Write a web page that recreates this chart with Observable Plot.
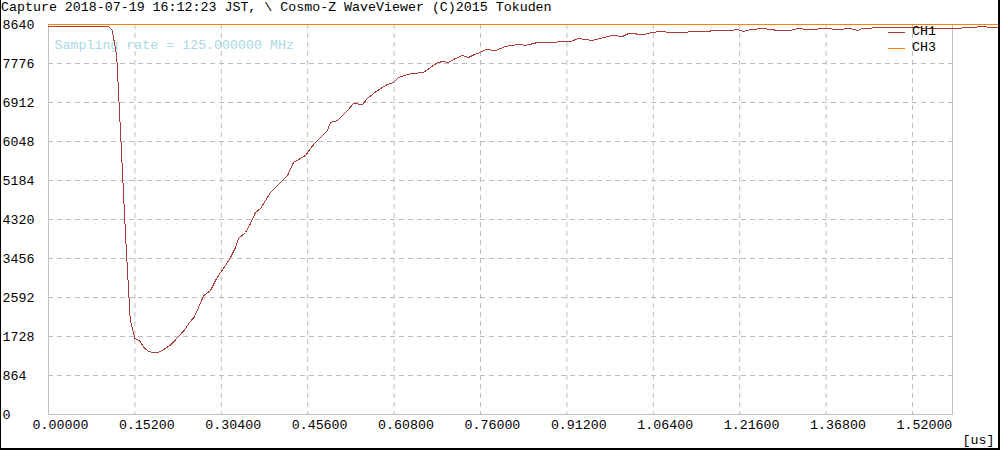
<!DOCTYPE html>
<html>
<head>
<meta charset="utf-8">
<script src="https://cdn.jsdelivr.net/npm/d3@7"></script>
<script src="https://cdn.jsdelivr.net/npm/@observablehq/plot@0.6"></script>
<style>
  html, body { margin: 0; padding: 0; background: #fff; }
  #wrap { position: relative; width: 1000px; height: 450px; overflow: hidden; background: #fff;
          font-family: 'Liberation Mono', monospace; }
  #title { position: absolute; left: 1px; top: 0; height: 16px; line-height: 16px; font-size: 13.3px; color: #000; white-space: pre; }
  #chart { position: absolute; left: 0; top: 16px; }
  #border { position: absolute; left: 0; top: 0; width: 1000px; height: 450px; box-sizing: border-box;
            border-left: 1px solid #000; border-right: 2px solid #000; border-bottom: 2px solid #000; pointer-events: none; }
  #legend { position: absolute; left: 888px; top: 24px; font-size: 13.3px; color: #000; }
  #legend .row { height: 16px; line-height: 16px; display: flex; align-items: center; }
  #legend .sw { width: 17px; height: 0; border-top: 1px solid; margin-right: 7px; }
</style>
</head>
<body>
<div id="wrap">
  <div id="title"></div>
  <div id="chart"></div>
  <div id="legend"></div>
  <div id="border"></div>
</div>
<script>
// ---- data ----
const titleText = "Capture 2018-07-19 16:12:23 JST, \\ Cosmo-Z WaveViewer (C)2015 Tokuden";
const samplingText = "Sampling rate = 125.000000 MHz";
const unitLabel = "[us]";

const xTicks = [0, 0.152, 0.304, 0.456, 0.608, 0.76, 0.912, 1.064, 1.216, 1.368, 1.52];
const yTicks = [0, 864, 1728, 2592, 3456, 4320, 5184, 6048, 6912, 7776, 8640];

const channelNames = ["CH1", "CH3"];
const channelColors = ["#aa3c3c", "#ff8000"];

// CH1 trace (time in microseconds, value in counts)
const ch1Time = [0, 0.1056, 0.1121, 0.1200, 0.1281, 0.1360, 0.1439, 0.1520, 0.1599, 0.1680,
  0.1759, 0.1840, 0.1919, 0.1999, 0.2080, 0.2159, 0.2240, 0.2319, 0.2400, 0.2479,
  0.2560, 0.2639, 0.2732, 0.2850, 0.2938, 0.3026, 0.3114, 0.3202, 0.3290, 0.3343,
  0.3466, 0.3554, 0.3642, 0.3730, 0.3818, 0.3906, 0.4029, 0.4117, 0.4205, 0.4310,
  0.4433, 0.4521, 0.4609, 0.4697, 0.4820, 0.4908, 0.4961, 0.5084, 0.5172, 0.5260,
  0.5366, 0.5524, 0.5612, 0.5718, 0.5841, 0.5964, 0.6070, 0.6158, 0.6316, 0.6421,
  0.6597, 0.6720, 0.6844, 0.6949, 0.7037, 0.7160, 0.7284, 0.7389, 0.7495, 0.7600,
  0.7688, 0.7864, 0.8040, 0.8128, 0.8304, 0.8392, 0.8603, 0.8884, 0.9008, 0.9184,
  0.9324, 0.9571, 0.9835, 0.9940, 1.0098, 1.0204, 1.0468, 1.0626, 1.0767, 1.0943,
  1.1594, 1.1700, 1.1998, 1.2122, 1.2227, 1.2350, 1.2579, 1.2702, 1.2843, 1.3054,
  1.3177, 1.3371, 1.3705, 1.3881, 1.4110, 1.4233, 1.4321, 1.4638, 1.4989, 1.5746,
  1.5922, 1.6221, 1.6449, 1.6573, 1.6713];
const ch1Value = [8596, 8596, 8507, 7953, 5893, 3855, 2082, 1684, 1639, 1484,
  1396, 1374, 1374, 1418, 1484, 1551, 1662, 1772, 1883, 2038,
  2149, 2370, 2636, 2747, 2969, 3146, 3301, 3478, 3700, 3899,
  4032, 4231, 4475, 4564, 4741, 4918, 5073, 5184, 5295, 5583,
  5671, 5738, 5893, 6026, 6181, 6292, 6469, 6513, 6624, 6735,
  6890, 6868, 7000, 7111, 7222, 7311, 7355, 7466, 7532, 7555,
  7577, 7687, 7798, 7820, 7798, 7887, 7953, 7909, 7975, 8020,
  8086, 8064, 8153, 8175, 8197, 8175, 8241, 8241, 8263, 8263,
  8330, 8286, 8374, 8397, 8374, 8441, 8419, 8463, 8485, 8463,
  8485, 8507, 8507, 8529, 8485, 8529, 8551, 8529, 8507, 8507,
  8551, 8529, 8551, 8529, 8551, 8507, 8551, 8573, 8573, 8551,
  8551, 8573, 8596, 8573, 8573];

// CH3 trace (flat at full scale)
const ch3Time = [0, 1.6713];
const ch3Value = [8640, 8640];

// ---- build ----
const ch1Data = ch1Time.map((t, i) => ({t, v: ch1Value[i]}));
const ch3Data = ch3Time.map((t, i) => ({t, v: ch3Value[i]}));

document.getElementById("title").textContent = titleText;

const legend = document.getElementById("legend");
channelNames.forEach((name, i) => {
  const row = document.createElement("div");
  row.className = "row";
  const sw = document.createElement("span");
  sw.className = "sw";
  sw.style.borderTopColor = channelColors[i];
  const lab = document.createElement("span");
  lab.textContent = name;
  row.appendChild(sw);
  row.appendChild(lab);
  legend.appendChild(row);
});

const gridStyle = {stroke: "#bdbdbd", strokeOpacity: 1, strokeDasharray: "5,4", strokeWidth: 1};
const font = "'Liberation Mono', monospace";

const chart = Plot.plot({
  width: 1000,
  height: 434,
  marginLeft: 48,
  marginRight: 48,
  marginTop: 8,
  marginBottom: 36,
  style: {fontFamily: font, fontSize: "13.3px", background: "transparent", color: "#000"},
  x: {domain: [0, 1.5904], axis: null},
  y: {domain: [0, 8640], axis: null},
  marks: [
    Plot.gridX(xTicks.filter(d => d > 0), gridStyle),
    Plot.gridY(yTicks.filter(d => d > 0 && d < 8640), gridStyle),
    Plot.frame({stroke: "#c0c0c0", strokeWidth: 1}),
    Plot.text([samplingText], {frameAnchor: "top-left", text: d => d, textAnchor: "start",
      dx: 6, dy: 15, fill: "#a9d9e3", fontSize: 13.3, fontFamily: font}),
    Plot.line(ch1Data, {x: "t", y: "v", stroke: channelColors[0], strokeWidth: 1, shapeRendering: "crispEdges"}),
    Plot.line(ch3Data, {x: "t", y: "v", stroke: channelColors[1], strokeWidth: 1, shapeRendering: "crispEdges"}),
    Plot.text(yTicks, {frameAnchor: "left", y: d => d, text: d => String(d), textAnchor: "start",
      dx: -46, fill: "#000", fontSize: 13.3, fontFamily: font}),
    Plot.text(xTicks, {frameAnchor: "bottom", x: d => d, text: d => d.toFixed(5), textAnchor: "start",
      lineAnchor: "middle", dx: -16, dy: 10, fill: "#000", fontSize: 13.3, fontFamily: font}),
    Plot.text([unitLabel], {frameAnchor: "bottom-right", text: d => d, textAnchor: "start",
      lineAnchor: "middle", dx: 10, dy: 25, fill: "#000", fontSize: 13.3, fontFamily: font})
  ]
});
document.getElementById("chart").appendChild(chart);
</script>
</body>
</html>
